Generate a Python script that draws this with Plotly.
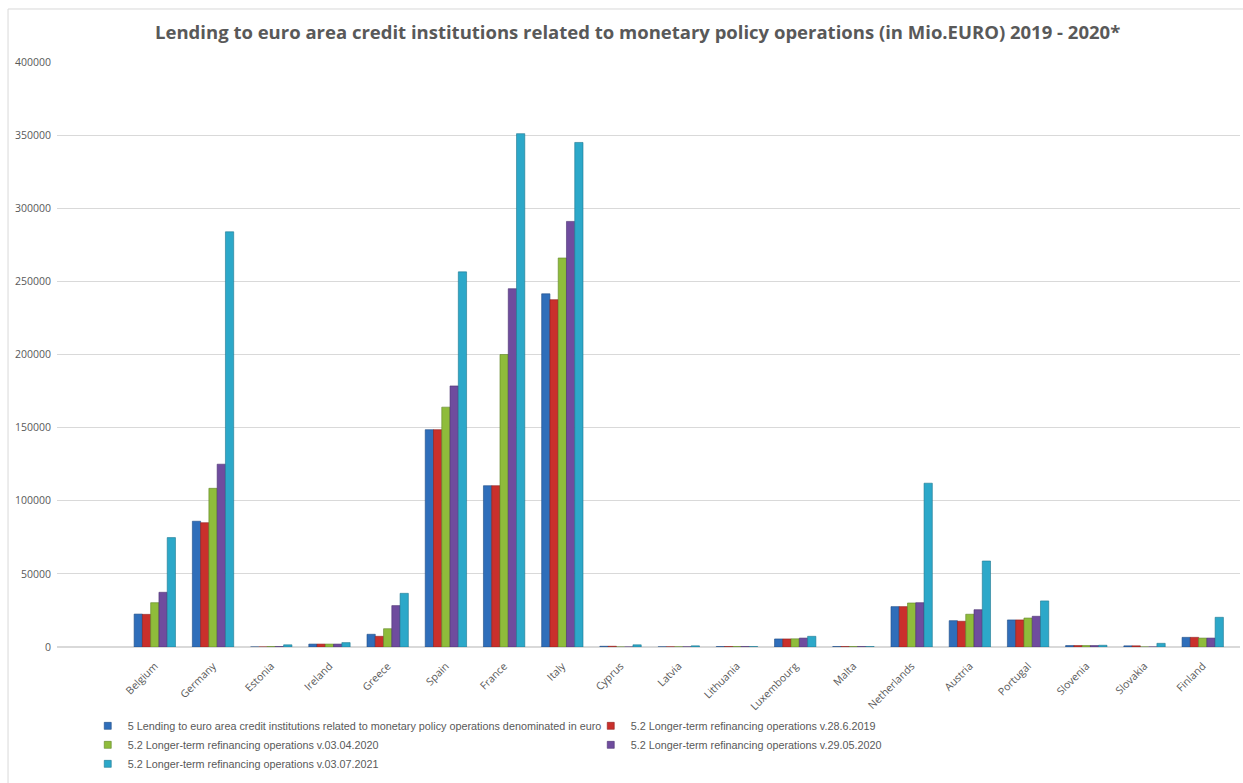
import plotly.graph_objects as go

countries = ["Belgium", "Germany", "Estonia", "Ireland", "Greece", "Spain", "France", "Italy",
             "Cyprus", "Latvia", "Lithuania", "Luxembourg", "Malta", "Netherlands", "Austria",
             "Portugal", "Slovenia", "Slovakia", "Finland"]

series_names = [
    "5 Lending to euro area credit institutions related to monetary policy operations denominated in euro",
    "5.2 Longer-term refinancing operations v.28.6.2019",
    "5.2 Longer-term refinancing operations v.03.04.2020",
    "5.2 Longer-term refinancing operations v.29.05.2020",
    "5.2 Longer-term refinancing operations v.03.07.2021",
]

lending_total = [22500, 86000, 0, 2000, 8700, 148600, 110300, 241500, 500, 100, 300, 5500, 300,
                 27600, 18000, 18500, 1000, 800, 6600]
ltro_2019 = [22300, 85000, 0, 2000, 7300, 148600, 110300, 237500, 500, 100, 300, 5500, 300,
             27600, 17600, 18500, 1000, 800, 6600]
ltro_2020_04 = [30300, 108500, 300, 2000, 12500, 164000, 200000, 266000, 0, 100, 300, 5600, 300,
                30100, 22400, 19800, 1000, 0, 6100]
ltro_2020_05 = [37400, 125000, 300, 2000, 28300, 178500, 245000, 291000, 0, 100, 300, 6100, 300,
                30300, 25500, 21000, 1000, 0, 6100]
ltro_2021 = [74800, 283900, 1500, 3000, 36700, 256500, 351000, 345000, 1500, 800, 300, 7300, 300,
             112000, 58800, 31500, 1200, 2500, 20300]

series_values = [lending_total, ltro_2019, ltro_2020_04, ltro_2020_05, ltro_2021]
colors = ["#2F6EBA", "#C9302C", "#8FBC3B", "#6F4C9E", "#2CA8C9"]
edges = ["#1F4C85", "#8E1F1C", "#5F8426", "#4A3170", "#1C7791"]

fig = go.Figure()
for name, vals, c, e in zip(series_names, series_values, colors, edges):
    fig.add_trace(go.Bar(x=countries, y=vals, name=name, showlegend=False, legendgroup=name,
                         marker=dict(color=c, line=dict(color=e, width=0.6))))
# legend entries with small square keys
for name, c, e in zip(series_names, colors, edges):
    fig.add_trace(go.Scatter(x=[None], y=[None], mode="markers", name=name, legendgroup=name,
                             marker=dict(symbol="square", size=7, color=c, line=dict(color=e, width=0.6))))

fig.update_layout(
    width=1243, height=783,
    paper_bgcolor="white", plot_bgcolor="white",
    margin=dict(l=57, r=3, t=62, b=136, autoexpand=False),
    barmode="group", bargap=0.29, bargroupgap=0.0,
    title=dict(text="<b>Lending to euro area credit institutions related to monetary policy operations (in Mio.EURO) 2019 - 2020*</b>",
               x=0.513, xanchor="center", y=0.958, yanchor="middle",
               font=dict(family="Open Sans, sans-serif", size=18.5, color="#595959")),
    font=dict(family="Open Sans, sans-serif", color="#595959"),
    xaxis=dict(range=[-1.68, 18.64], tickangle=-45, showgrid=False, showline=False,
               tickfont=dict(size=10.5, color="#595959"), ticks="", ticklabelstandoff=10,
               automargin=False),
    yaxis=dict(range=[0, 400000], dtick=50000, tickformat="d", showgrid=True,
               gridcolor="#D9D9D9", gridwidth=1, zeroline=True, zerolinecolor="#D9D9D9",
               tickfont=dict(size=10.5, color="#595959"), ticklabelstandoff=5, automargin=False),
    legend=dict(orientation="h", x=0.026, xanchor="left", y=-0.11, yanchor="top",
                entrywidth=458, traceorder="normal",
                font=dict(family="Liberation Sans, Arial, sans-serif", size=10.8, color="#595959"),
                itemwidth=30, tracegroupgap=0),
    shapes=[dict(type="rect", xref="paper", yref="paper", x0=-0.0414, x1=1.01, y0=-0.4, y1=1.0906,
                 line=dict(color="#D9D9D9", width=1), fillcolor="rgba(0,0,0,0)", layer="below")],
)

fig.write_html("out.html")
